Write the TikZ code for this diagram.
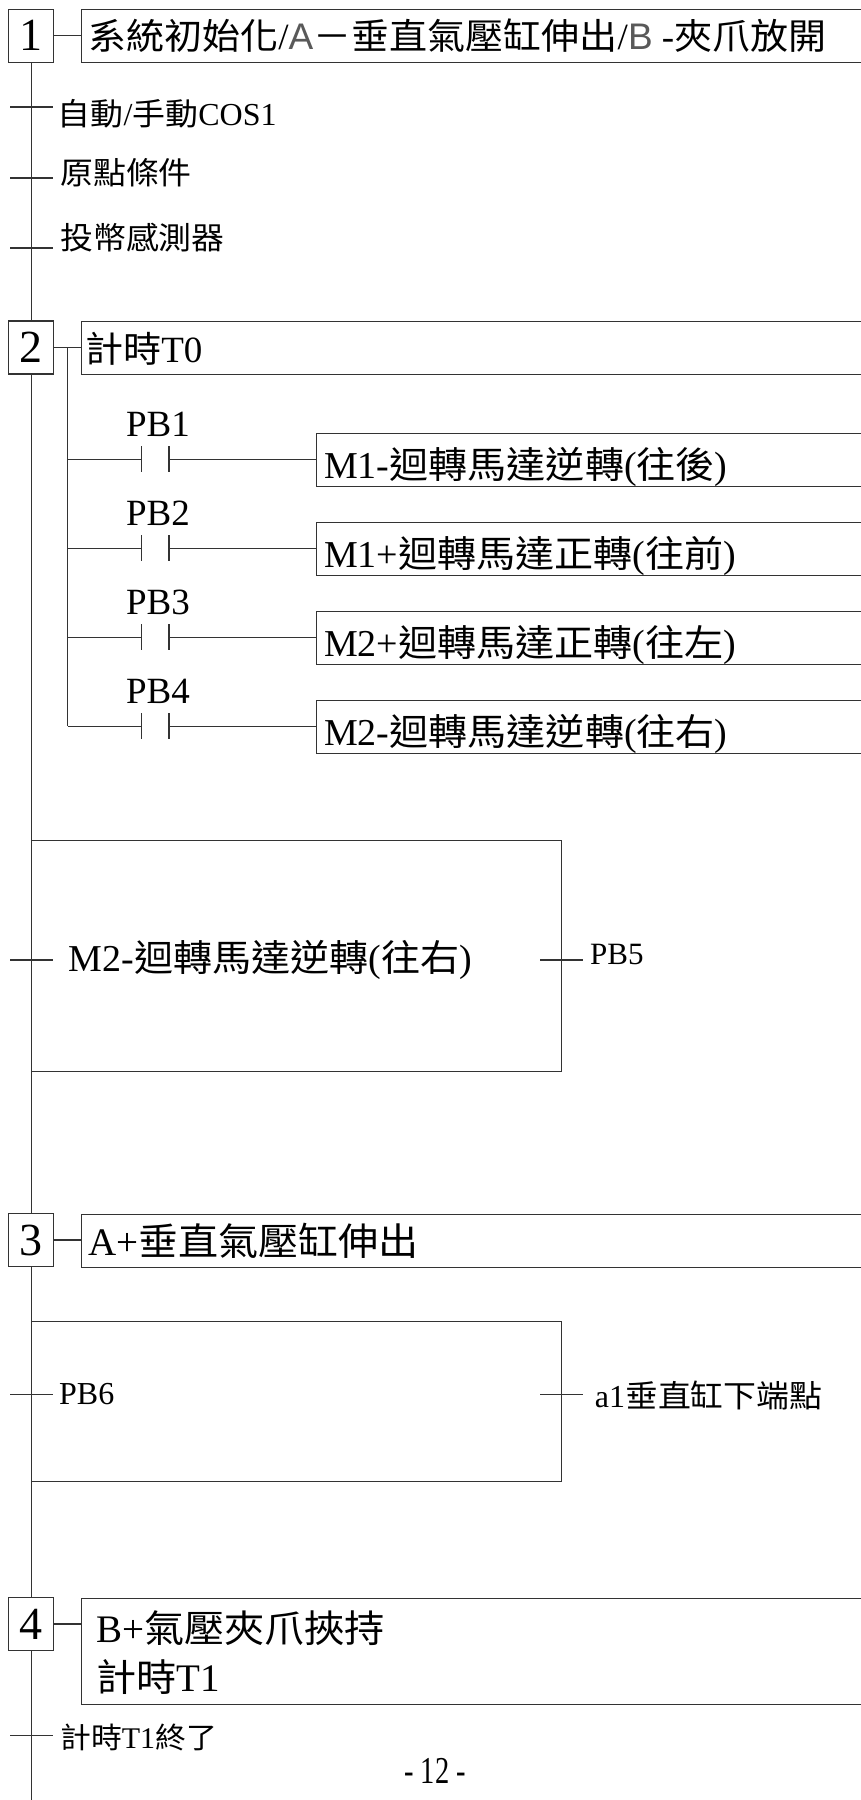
\documentclass[tikz,border=0pt]{standalone}
\usepackage{fontspec}
\setmainfont{Liberation Serif}
\newfontfamily\cjk[Scale=0.97,FakeStretch=1.06]{Noto Sans CJK TC}
\newfontfamily\thinsans{Liberation Sans}
\newcommand\zh[1]{{\cjk #1}}
\newcommand\ts[1]{{\thinsans\color{black!65}#1}}
\newcommand\fs[1]{\fontsize{#1}{#1}\selectfont}
\begin{document}
\begin{tikzpicture}[x=1pt,y=-1pt,
  ln/.style={line width=1.1pt, draw=black!80},
  stepbox/.style={ln, fill=white, minimum width=45pt, minimum height=53pt, inner sep=0pt, font=\fs{46}},
  actbox/.style={ln, fill=white, anchor=north west, minimum width=820pt, minimum height=53pt, inner sep=0pt},
  tbox/.style={ln, anchor=north west, minimum width=530pt, inner sep=0pt},
  lbl/.style={anchor=west, inner sep=0pt},
  pb/.style={inner sep=0pt, font=\fs{37}}
  ]
\useasboundingbox (0,0) rectangle (861,1800);
\clip (0,0) rectangle (861,1800);

% main vertical line
\coordinate (top) at (31.4,62);
\coordinate (bot) at (31.4,1800);
\draw[ln] (top) -- (bot);

% ---------- step 1
\node[stepbox] (s1) at (31.4,35.8) {1};
\node[actbox] (a1) at (80.7,9.3) {};
\draw[ln] (s1.east) -- (a1.west |- s1.east);
\node[lbl, font=\fs{37}] (a1t) at (88,36) {\zh{系統初始化}/\ts{A}\zh{－垂直氣壓缸伸出}/\ts{B} -\zh{夾爪放開}};

% transitions of step 1
\coordinate (c1l) at (10,107);  \coordinate (c1r) at (53,107);
\coordinate (c2l) at (10,178);  \coordinate (c2r) at (53,178);
\coordinate (c3l) at (10,248);  \coordinate (c3r) at (53,248);
\draw[ln] (c1l) -- (c1r);
\draw[ln] (c2l) -- (c2r);
\draw[ln] (c3l) -- (c3r);
\node[lbl, font=\fs{32}] (c1) at (57.7,114) {\zh{自動}/\zh{手動}COS1};
\node[lbl, font=\fs{32}] (c2) at (60,172.5) {\zh{原點條件}};
\node[lbl, font=\fs{32}] (c3) at (60,238) {\zh{投幣感測器}};

% ---------- step 2
\node[stepbox] (s2) at (31.4,347.5) {2};
\node[actbox] (a2) at (80.7,321) {};
\draw[ln] (s2.east) -- (a2.west |- s2.east);
\node[lbl, font=\fs{37}] (a2t) at (85,348.5) {\zh{計時}T0};
\coordinate (br) at (67.5,347.5);
\coordinate (brend) at (67.5,726.3);
\draw[ln] (br) -- (brend);

\foreach \i/\y/\t in {1/459.3/{M1-\zh{迴轉馬達逆轉}(\zh{往後})},
                      2/548.3/{M1+\zh{迴轉馬達正轉}(\zh{往前})},
                      3/637.3/{M2+\zh{迴轉馬達正轉}(\zh{往左})},
                      4/726.3/{M2-\zh{迴轉馬達逆轉}(\zh{往右})}}{
  \coordinate (k\i a) at (141.7,\y);
  \coordinate (k\i b) at (169,\y);
  \node[actbox] (o\i) at (316.3,\y-26) {};
  \draw[ln] (br |- k\i a) -- (k\i a);
  \draw[ln] (141.7,\y-13) -- (141.7,\y+13);
  \draw[ln] (169,\y-13) -- (169,\y+13);
  \draw[ln] (k\i b) -- (o\i.west |- k\i b);
  \node[pb] (pb\i) at (158,\y-35) {PB\i};
  \node[lbl, font=\fs{38}] (o\i t) at (324,\y+8) {\t};
}

% transition box after step 2
\node[tbox, minimum height=231pt] (t1) at (31.3,840) {};
\coordinate (d1l) at (10,960);  \coordinate (d1r) at (53,960);
\coordinate (d2l) at (540,960); \coordinate (d2r) at (583,960);
\draw[ln] (d1l) -- (d1r);
\draw[ln] (d2l) -- (d2r);
\node[lbl, font=\fs{38}] (t1a) at (68.6,960) {M2-\zh{迴轉馬達逆轉}(\zh{往右})};
\node[lbl, font=\fs{31}] (t1b) at (590,954) {PB5};

% ---------- step 3
\node[stepbox] (s3) at (31.4,1240) {3};
\node[actbox] (a3) at (80.7,1213.5) {};
\draw[ln] (s3.east) -- (a3.west |- s3.east);
\node[lbl, font=\fs{39}] (a3t) at (88,1241) {A+\zh{垂直氣壓缸伸出}};

\node[tbox, minimum height=160.3pt] (t2) at (31.3,1320.7) {};
\coordinate (e1l) at (10,1394.3);  \coordinate (e1r) at (53,1394.3);
\coordinate (e2l) at (540,1394.3); \coordinate (e2r) at (583,1394.3);
\draw[ln] (e1l) -- (e1r);
\draw[ln] (e2l) -- (e2r);
\node[lbl, font=\fs{32}] (t2a) at (59,1394) {PB6};
\node[lbl, font=\fs{32}] (t2b) at (594.7,1395) {a1\zh{垂直缸下端點}};

% ---------- step 4
\node[stepbox] (s4) at (31.4,1624) {4};
\node[actbox, minimum height=106.3pt] (a4) at (80.7,1597.7) {};
\draw[ln] (s4.east) -- (a4.west |- s4.east);
\node[lbl, font=\fs{39}] (a4t) at (96,1628) {B+\zh{氣壓夾爪挾持}};
\node[lbl, font=\fs{39}] (a4u) at (96,1677.5) {\zh{計時}T1};

\coordinate (f1l) at (10,1735.7); \coordinate (f1r) at (53,1735.7);
\draw[ln] (f1l) -- (f1r);
\node[lbl, font=\fs{30}] (f1) at (60,1737.5) {\zh{計時}T1\zh{終了}};

\node[font=\fs{38}, inner sep=0pt] (pg) at (435,1771) {\scalebox{0.75}[1]{- 12 -}};
\end{tikzpicture}
\end{document}
